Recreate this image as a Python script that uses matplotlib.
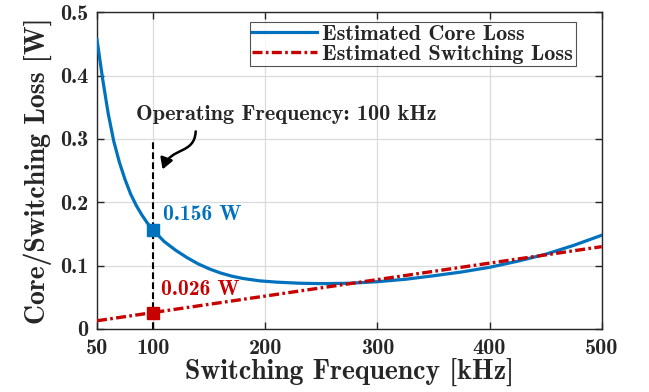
import matplotlib
matplotlib.use("Agg")
import matplotlib.pyplot as plt
from matplotlib.patches import FancyArrowPatch
from matplotlib.path import Path

plt.rcParams["font.family"] = ["cmb10", "DejaVu Serif"]
plt.rcParams["axes.unicode_minus"] = False

# estimated losses vs switching frequency
freq_core = [50, 55, 60, 65, 70, 75, 80, 85, 90, 95, 100, 110, 120, 130, 140,
             150, 160, 170, 180, 195, 210, 230, 250, 275, 300, 325, 350, 375,
             400, 425, 450, 475, 500]
core_loss = [0.457, 0.395, 0.340, 0.296, 0.263, 0.236, 0.213, 0.195, 0.180,
             0.167, 0.156, 0.138, 0.1245, 0.113, 0.103, 0.0950, 0.0885, 0.0835,
             0.0798, 0.0760, 0.0740, 0.0723, 0.0716, 0.0722, 0.0747, 0.0785,
             0.0840, 0.0900, 0.0974, 0.107, 0.118, 0.132, 0.148]
freq_sw = [50, 100, 500]
sw_loss = [0.013, 0.026, 0.130]

f_op = 100
core_op = 0.156
sw_op = 0.026

xticks = [50, 100, 200, 300, 400, 500]
yticks = [0, 0.1, 0.2, 0.3, 0.4, 0.5]
ytick_labels = ["0", "0.1", "0.2", "0.3", "0.4", "0.5"]

blue = (0, 0.447, 0.741)
red = (0.78, 0.0, 0.0)
dark = (0.15, 0.15, 0.15)

fig = plt.figure(figsize=(6.49, 3.92), dpi=100)
ax = fig.add_axes([97 / 649, 1 - 329 / 392, (601.7 - 97) / 649, (329 - 12.3) / 392])

ax.plot(freq_core, core_loss, color=blue, lw=2.3, label="Estimated Core Loss", zorder=3)
ax.plot(freq_sw, sw_loss, color=red, lw=2.4, ls=(0, (3.0, 1.0, 0.8, 1.0)),
        label="Estimated Switching Loss", zorder=3)

ax.plot([f_op, f_op], [0, 0.3], color="black", lw=1.5, ls=(0, (3.2, 1.6)), zorder=2)
ax.plot(f_op, core_op, "s", color=blue, ms=9, zorder=4)
ax.plot(f_op, sw_op, "s", color=red, ms=9, zorder=4)

ax.text(108.5, 0.181, f"{core_op:.3f} W", color=blue, fontsize=15.5, va="center")
ax.text(107, 0.0616, f"{sw_op:.3f} W", color=red, fontsize=15.5, va="center")
ax.text(84.5, 0.338, "Operating Frequency: 100 kHz", color=dark, fontsize=16, va="center")

arrow_path = Path([(138, 0.312), (137, 0.275), (116, 0.288), (108.5, 0.252)],
                  [Path.MOVETO, Path.CURVE4, Path.CURVE4, Path.CURVE4])
ax.add_patch(FancyArrowPatch(path=arrow_path, arrowstyle="-|>,head_length=6.5,head_width=3.8",
                             color="black", lw=1.8, zorder=5))

ax.set_xlim(50, 500)
ax.set_ylim(0, 0.5)
ax.set_xticks(xticks)
ax.set_xticklabels([str(t) for t in xticks])
ax.set_yticks(yticks)
ax.set_yticklabels(ytick_labels)
ax.tick_params(direction="in", top=True, right=True, labelsize=16, colors=dark,
               length=5, width=1)
ax.tick_params(axis="x", pad=7)
ax.tick_params(axis="y", pad=6)
for sp in ax.spines.values():
    sp.set_color(dark)
    sp.set_linewidth(1)
ax.grid(True, color=(0.86, 0.86, 0.86), lw=0.9)
ax.set_axisbelow(True)

ax.set_xlabel("Switching Frequency [kHz]", fontsize=20, color=dark, labelpad=0)
ax.set_ylabel("Core/Switching Loss [W]", fontsize=20, color=dark, labelpad=6)

leg = ax.legend(loc="upper right", bbox_to_anchor=(576 / 649, 1 - 22 / 392),
                bbox_transform=fig.transFigure, fontsize=16, frameon=True,
                fancybox=False, edgecolor=dark, handlelength=2.9,
                borderpad=0.12, labelspacing=0.0, handletextpad=0.25,
                borderaxespad=0)
leg.get_frame().set_linewidth(0.8)
for t in leg.get_texts():
    t.set_color(dark)

fig.savefig("out.png", dpi=100)
